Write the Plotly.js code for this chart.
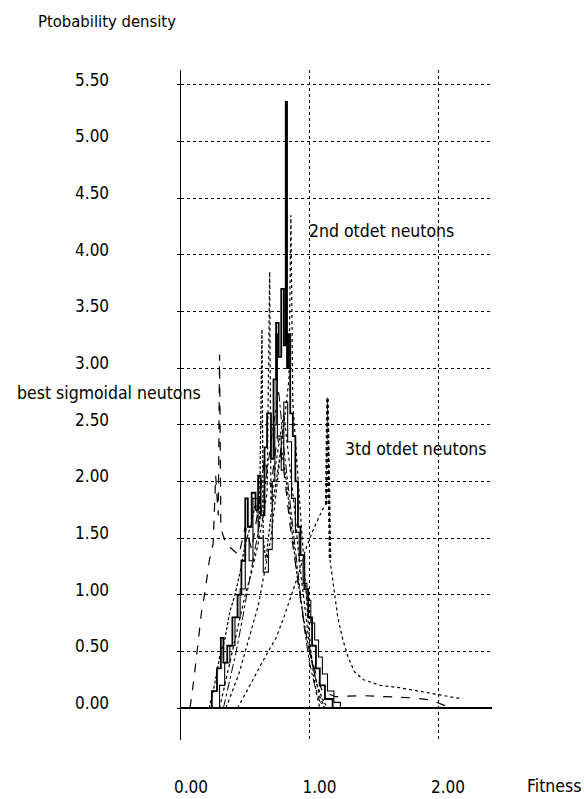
<!DOCTYPE html>
<html>
<head>
<meta charset="utf-8">
<script src="https://cdn.plot.ly/plotly-3.0.1.min.js"></script>
<style>html,body{margin:0;padding:0;background:#fff;}#chart{width:584px;height:799px;}</style>
</head>
<body>
<div id="chart"></div>
<script>
// Tick labels
const xTickVals = [0, 1, 2];
const xTickText = ["0.00", "1.00", "2.00"];
const yTickVals = [0, 0.5, 1, 1.5, 2, 2.5, 3, 3.5, 4, 4.5, 5, 5.5];
const yTickText = ["0.00", "0.50", "1.00", "1.50", "2.00", "2.50", "3.00", "3.50", "4.00", "4.50", "5.00", "5.50"];

// Series (fitness vs probability density)
const solidA_x = [0.20,0.24,0.28,0.31,0.33,0.36,0.40,0.44,0.47,0.50,0.52,0.55,0.58,0.60,0.62,0.65,0.67,0.70,0.72,0.74,0.76,0.78,0.80,0.815,0.825,0.835,0.85,0.87,0.89,0.91,0.93,0.96,0.99,1.02,1.05,1.08,1.12,1.18];
const solidA_y = [0,0.15,0.35,0.62,0.40,0.55,0.80,1.00,1.30,1.85,1.60,1.90,1.75,2.05,1.70,2.30,2.60,2.20,2.90,3.40,3.10,3.70,3.20,5.35,3.00,3.30,2.60,2.40,2.00,1.60,1.35,1.05,0.80,0.55,0.35,0.20,0.08,0];

const solidB_x = [0.27,0.30,0.34,0.38,0.42,0.46,0.50,0.53,0.56,0.60,0.64,0.68,0.71,0.73,0.74,0.75,0.78,0.80,0.83,0.86,0.89,0.92,0.95,0.98,1.01,1.04,1.07,1.10,1.14,1.19,1.24];
const solidB_y = [0,0.20,0.40,0.55,0.80,1.05,1.50,1.30,1.85,1.50,1.20,1.40,2.00,2.50,3.30,2.40,2.10,2.70,2.35,1.85,1.55,1.30,1.10,0.95,0.75,0.60,0.45,0.30,0.15,0.05,0];

const sigmoid_x = [0.07,0.10,0.13,0.16,0.19,0.22,0.25,0.27,0.29,0.30,0.31,0.32,0.35,0.40,0.45,0.50,0.55,0.60,0.65,0.70,0.75,0.80,0.85,0.90,0.95,1.00,1.05,1.10,1.20,1.40,1.60,1.80,1.95,2.05,2.10];
const sigmoid_y = [0,0.25,0.55,0.85,1.05,1.30,1.45,2.05,1.70,3.12,1.60,1.55,1.45,1.40,1.35,1.60,1.40,1.75,2.20,1.95,2.40,2.10,1.60,1.20,0.80,0.50,0.30,0.15,0.10,0.11,0.10,0.09,0.07,0.02,0];

const dashB_x = [0.22,0.26,0.30,0.34,0.38,0.42,0.46,0.50,0.54,0.58,0.61,0.62,0.63,0.64,0.66,0.70,0.74,0.78,0.82,0.86,0.90,0.94,0.98,1.02,1.06,1.10,1.14];
const dashB_y = [0,0.20,0.45,0.60,0.85,1.00,1.20,1.45,1.60,1.80,1.60,2.30,3.34,1.50,1.30,1.70,2.00,2.30,2.00,1.60,1.20,0.90,0.60,0.40,0.20,0.08,0];

const dotA_x = [0.30,0.35,0.40,0.45,0.50,0.55,0.60,0.64,0.67,0.69,0.70,0.73,0.77,0.80,0.84,0.88,0.92,0.96,1.00,1.04,1.08,1.12];
const dotA_y = [0,0.25,0.50,0.75,1.00,1.20,1.45,1.70,1.90,3.85,1.80,2.10,2.40,2.60,2.20,1.80,1.30,0.90,0.55,0.30,0.10,0];

const second_x = [0.35,0.40,0.45,0.50,0.55,0.60,0.65,0.70,0.74,0.78,0.81,0.84,0.855,0.87,0.90,0.93,0.96,0.99,1.02,1.05,1.08];
const second_y = [0,0.15,0.30,0.50,0.70,0.90,1.20,1.50,1.90,2.30,2.60,2.90,4.35,2.70,2.20,1.70,1.20,0.75,0.40,0.15,0];

const third_x = [0.44,0.50,0.56,0.62,0.68,0.74,0.80,0.86,0.92,0.97,1.02,1.06,1.10,1.13,1.14,1.16,1.19,1.22,1.26,1.30,1.35,1.42,1.55,1.70,1.85,2.00,2.10,2.19];
const third_y = [0,0.12,0.25,0.38,0.50,0.62,0.80,1.00,1.20,1.40,1.55,1.65,1.75,1.80,2.74,1.30,1.05,0.80,0.60,0.45,0.32,0.25,0.20,0.18,0.15,0.12,0.10,0.08];

const dashdot_x = [0.33,0.38,0.43,0.48,0.52,0.56,0.60,0.64,0.68,0.72,0.76,0.80,0.84,0.88,0.92,0.96,1.00,1.04,1.08,1.12];
const dashdot_y = [0,0.25,0.50,0.80,1.05,1.30,1.55,1.85,2.20,2.50,2.80,2.30,1.90,1.50,1.05,0.70,0.40,0.20,0.06,0];

const FONT = "DejaVu Sans Condensed, Liberation Sans Narrow, DejaVu Sans, sans-serif";

function tr(x, y, dash, width, shape) {
  return {x: x, y: y, type: "scatter", mode: "lines",
    line: {color: "#000", width: width, dash: dash, shape: shape || "linear"},
    hoverinfo: "skip", showlegend: false};
}

const data = [
  tr(dashdot_x, dashdot_y, "dashdot", 1),
  tr(third_x, third_y, "dot", 1.2),
  tr(third_x.slice(13, 16), third_y.slice(13, 16), "dot", 2.5),
  tr(second_x, second_y, "dot", 1.2),
  tr(dotA_x, dotA_y, "dot", 1.2),
  tr(dashB_x, dashB_y, "3px,2px", 1.2),
  tr(sigmoid_x, sigmoid_y, "dash", 1.2),
  tr(solidB_x, solidB_y, "solid", 1.1, "hv"),
  tr(solidA_x, solidA_y, "solid", 1.8, "hv")
];

const layout = {
  width: 584, height: 799,
  margin: {l: 181, r: 92, t: 70, b: 59, pad: 0},
  paper_bgcolor: "#fff", plot_bgcolor: "#fff",
  font: {family: FONT, size: 17, color: "#000"},
  showlegend: false,
  xaxis: {
    range: [0, 2.42], tickvals: xTickVals, ticktext: xTickText,
    showgrid: true, gridcolor: "#000", gridwidth: 1, griddash: "3px,3px",
    zeroline: false, showline: false, ticks: "",
    ticklabelstandoff: 35, ticklabelshift: 10,
    tickfont: {family: FONT, size: 17, color: "#000"}
  },
  yaxis: {
    range: [-0.282, 5.631], tickvals: yTickVals, ticktext: yTickText,
    showgrid: true, gridcolor: "#000", gridwidth: 1, griddash: "3px,3px",
    zeroline: true, zerolinecolor: "#000", zerolinewidth: 1.5,
    showline: true, linecolor: "#000", linewidth: 1.5,
    ticks: "outside", ticklen: 3, tickcolor: "#000",
    ticklabelstandoff: 64, ticklabelshift: -5,
    tickfont: {family: FONT, size: 17, color: "#000"}
  },
  annotations: [
    {text: "Ptobability density", xref: "paper", yref: "paper", x: -0.466, y: 1.073, xanchor: "left", yanchor: "middle", showarrow: false, font: {family: FONT, size: 16.5}},
    {text: "best sigmoidal neutons", xref: "paper", yref: "paper", x: -0.534, y: 0.518, xanchor: "left", yanchor: "middle", showarrow: false, font: {family: FONT, size: 17.5}},
    {text: "2nd otdet neutons", xref: "x", yref: "y", x: 0.98, y: 4.21, xanchor: "left", yanchor: "middle", showarrow: false, font: {family: FONT, size: 17.5}},
    {text: "3td otdet neutons", xref: "x", yref: "y", x: 1.26, y: 2.29, xanchor: "left", yanchor: "middle", showarrow: false, font: {family: FONT, size: 17.5}},
    {text: "Fitness", xref: "paper", yref: "paper", x: 1.106, y: -0.069, xanchor: "left", yanchor: "middle", showarrow: false, font: {family: FONT, size: 17.5}}
  ]
};

Plotly.newPlot("chart", data, layout, {staticPlot: true, displayModeBar: false});
</script>
</body>
</html>
